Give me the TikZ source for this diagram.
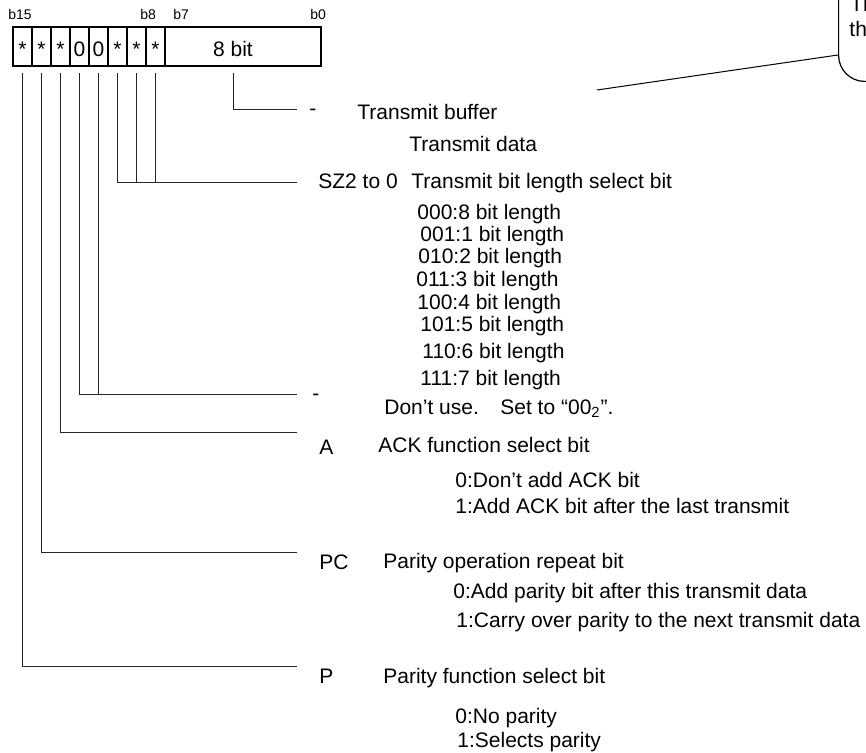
\documentclass[tikz,border=0pt]{standalone}
\usepackage{fontspec}
\setmainfont{Liberation Sans}
\newcommand{\fs}{\fontsize{10.5}{12.6}\selectfont}
\begin{document}
\begin{tikzpicture}[x=0.5pt,y=-0.5pt,
  txt/.style={inner sep=0pt, anchor=base west, font=\fs},
  bitlbl/.style={inner sep=0pt, anchor=base west, font=\fontsize{7}{8.4}\selectfont},
  cellbox/.style={draw, line width=0.9pt, minimum width=9.5pt, minimum height=19.5pt, inner sep=0pt, text height=10.5pt, text depth=0pt, font=\fs},
  conn/.style={line width=0.5pt, draw=black!85, shorten <=3pt},
  callbox/.style={draw, line width=0.6pt, rounded corners=13pt, minimum width=60pt, minimum height=70pt, inner sep=0pt}]
\useasboundingbox (0,0) rectangle (866,753);
\clip (0,0) rectangle (866,753);

% bit labels
\node[bitlbl] (lb15) at (8,20) {b15};
\node[bitlbl] (lb8) at (140,20) {b8};
\node[bitlbl] (lb7) at (173,20) {b7};
\node[bitlbl] (lb0) at (310,20) {b0};

% register cells
\foreach \i/\t [count=\k from 0] in {15/*,14/*,13/*,12/0,11/0,10/*,9/*,8/*}
  \node[cellbox] (c\i) at (22.5+19*\k,46.5) {\t};
\node[cellbox, minimum width=78pt] (f8) at (243,46.5) {};
\node[txt, anchor=base] (t8) at (233,57) {8 bit};

% line end points
\coordinate (tbE) at (297,110);
\coordinate (szE) at (297,183);
\coordinate (duE) at (297,394);
\coordinate (aE) at (297,432);
\coordinate (pcE) at (297,552);
\coordinate (pE) at (297,666);

% connectors
\draw[conn] (t8.base |- f8.south) |- (tbE);
\draw[conn] (c10.south) |- (szE);
\draw[conn] (c9.south) -- (c9.south |- szE);
\draw[conn] (c8.south) -- (c8.south |- szE);
\draw[conn] (c12.south) |- (duE);
\draw[conn] (c11.south) -- (c11.south |- duE);
\draw[conn] (c13.south) |- (aE);
\draw[conn] (c14.south) |- (pcE);
\draw[conn] (c15.south) |- (pE);

% texts
\node[txt] (d1) at (309,116) {-};
\node[txt] (tb) at (357,120) {Transmit buffer};
\node[txt] (td) at (409,152) {Transmit data};
\node[txt] (sz) at (318,189) {SZ2 to 0};
\node[txt] (szd) at (411,189) {Transmit bit length select bit};
\node[txt] (s0) at (417,220) {000:8 bit length};
\node[txt] (s1) at (420,242) {001:1 bit length};
\node[txt] (s2) at (418,264) {010:2 bit length};
\node[txt] (s3) at (416,287) {011:3 bit length};
\node[txt] (s4) at (417,309) {100:4 bit length};
\node[txt] (s5) at (420,331) {101:5 bit length};
\node[txt] (s6) at (422,358) {110:6 bit length};
\node[txt] (s7) at (420,385) {111:7 bit length};
\node[txt] (d2) at (312,400) {-};
\node[txt] (du) at (384,414) {Don’t use.};
\node[txt] (st) at (500,414) {Set to “00\textsubscript{2}”.};
\node[txt] (a) at (319,454) {A};
\node[txt] (ad) at (378,452) {ACK function select bit};
\node[txt] (a0) at (455,487) {0:Don’t add ACK bit};
\node[txt] (a1) at (455,513) {1:Add ACK bit after the last transmit};
\node[txt] (pc) at (319,569) {PC};
\node[txt] (pcd) at (383,568) {Parity operation repeat bit};
\node[txt] (pc0) at (453,598) {0:Add parity bit after this transmit data};
\node[txt] (pc1) at (456,627) {1:Carry over parity to the next transmit data};
\node[txt] (p) at (319,683) {P};
\node[txt] (pd) at (383,683) {Parity function select bit};
\node[txt] (p0) at (455,723) {0:No parity};
\node[txt] (p1) at (457,747) {1:Selects parity};

% callout
\node[callbox, anchor=south west] (callout) at (838,82) {};
\node[txt] (ct1) at (850,12) {Th};
\node[txt] (ct2) at (849,37) {th};
\coordinate (lead) at (597,90);
\path (callout.south west) ++(0,-27) coordinate (cpt);
\draw[line width=0.5pt] (lead) -- (cpt);
\end{tikzpicture}
\end{document}
